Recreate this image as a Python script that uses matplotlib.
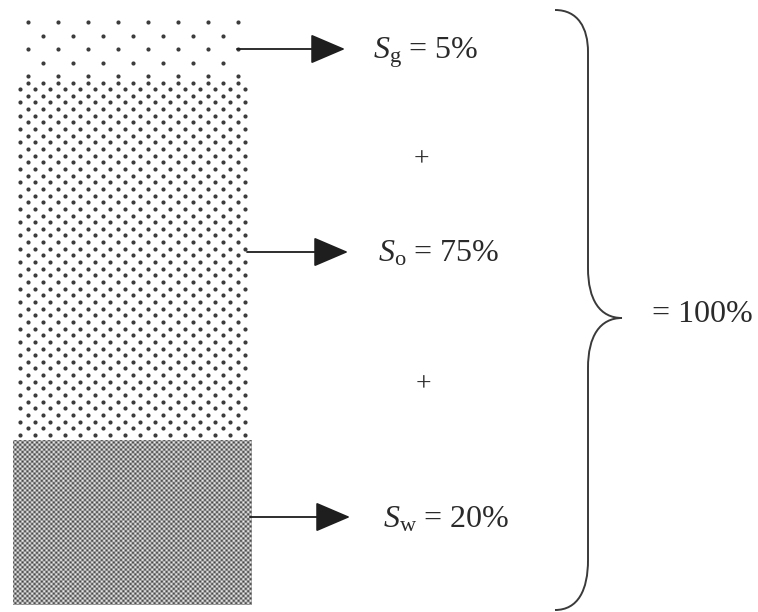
import numpy as np
import matplotlib
matplotlib.use("Agg")
import matplotlib.pyplot as plt
from matplotlib.path import Path
from matplotlib.patches import PathPatch

# ---- data ----
phases = ["g", "o", "w"]            # gas, oil, water
saturations = [5, 75, 20]           # percent
total_label = sum(saturations)      # 100 %
plus_sign = "+"

# ---- layout (pixel coordinates) ----
W, H = 758, 612
col_left, col_right = 13, 252
gas_top, gas_bot = 22, 76
oil_top, oil_bot = 82.5, 435
wat_top, wat_bot = 440, 605
arrow_y = [49, 252, 517]
arrow_x0 = [237, 247, 250]
arrow_x1 = [345, 348, 350]
label_x = [373, 378, 383]
plus_y = [160, 385]
plus_x = [421, 423]

plt.rcParams["mathtext.fontset"] = "custom"
plt.rcParams["mathtext.rm"] = "Liberation Serif"
plt.rcParams["mathtext.it"] = "Liberation Serif:italic"
plt.rcParams["font.family"] = ["Liberation Serif", "DejaVu Serif"]

fig = plt.figure(figsize=(W / 100, H / 100), dpi=100)
ax = fig.add_axes([0, 0, 1, 1])
ax.set_xlim(0, W)
ax.set_ylim(H, 0)
ax.axis("off")

dot_col = "#3c3c3c"
dot_s = 9

# gas: sparse staggered dots
gx, gy = [], []
for i, y in enumerate(np.linspace(gas_top, gas_bot, 5)):
    start = 27.7 if i % 2 == 0 else 42.7
    xs = np.arange(start, 240, 30)
    gx += list(xs)
    gy += [y] * len(xs)
ax.scatter(gx, gy, s=dot_s, c=dot_col, linewidths=0)

# oil: dense staggered dots
ox, oy = [], []
for i, y in enumerate(np.linspace(oil_top, oil_bot, 54)):
    start = 27.7 if i % 2 == 0 else 20.2
    xs = np.arange(start, 248, 15)
    ox += list(xs)
    oy += [y] * len(xs)
ax.scatter(ox, oy, s=dot_s, c=dot_col, linewidths=0)

# water: fine checker texture
nx, ny = col_right - col_left, wat_bot - wat_top
xx, yy = np.meshgrid(np.arange(nx) + 0.5, np.arange(ny) + 0.5)
P = 4.8
tex = 0.5 + 0.5 * np.cos(2 * np.pi * xx / P) * np.cos(2 * np.pi * yy / P)
ax.imshow(tex, cmap="gray", vmin=-0.4, vmax=1.1,
          extent=[col_left, col_right, wat_bot, wat_top],
          interpolation="bilinear", aspect="auto", zorder=1)

# arrows and labels
for ph, sat, y, x0, x1, lx in zip(phases, saturations, arrow_y, arrow_x0, arrow_x1, label_x):
    ax.annotate("", xy=(x1, y), xytext=(x0, y),
                arrowprops=dict(arrowstyle="-|>,head_length=1.1,head_width=0.47",
                                mutation_scale=20, lw=1.3, color="#1e1e1e",
                                shrinkA=0, shrinkB=0))
    ax.text(lx, y + 10, r"$S_{\mathrm{%s}}$ = %d%%" % (ph, sat),
            fontsize=23, color="#2a2a2a", va="baseline", ha="left")

for px, py in zip(plus_x, plus_y):
    ax.text(px, py, plus_sign, fontsize=20, color="#2a2a2a", ha="center", va="center")

# brace
verts = [
    (555, 10), (578, 10), (588, 28), (588, 52),
    (588, 268),
    (588, 300), (600, 318), (622, 318),
    (600, 318), (588, 336), (588, 368),
    (588, 560),
    (588, 590), (578, 610), (555, 610),
]
codes = [Path.MOVETO, Path.CURVE4, Path.CURVE4, Path.CURVE4,
         Path.LINETO,
         Path.CURVE4, Path.CURVE4, Path.CURVE4,
         Path.CURVE4, Path.CURVE4, Path.CURVE4,
         Path.LINETO,
         Path.CURVE4, Path.CURVE4, Path.CURVE4]
ax.add_patch(PathPatch(Path(verts, codes), fill=False, lw=1.4, ec="#3a3a3a"))

ax.text(652, 322, "= %d%%" % total_label, fontsize=23, color="#2a2a2a",
        va="baseline", ha="left")

fig.savefig("out.png", dpi=100, facecolor="white")
